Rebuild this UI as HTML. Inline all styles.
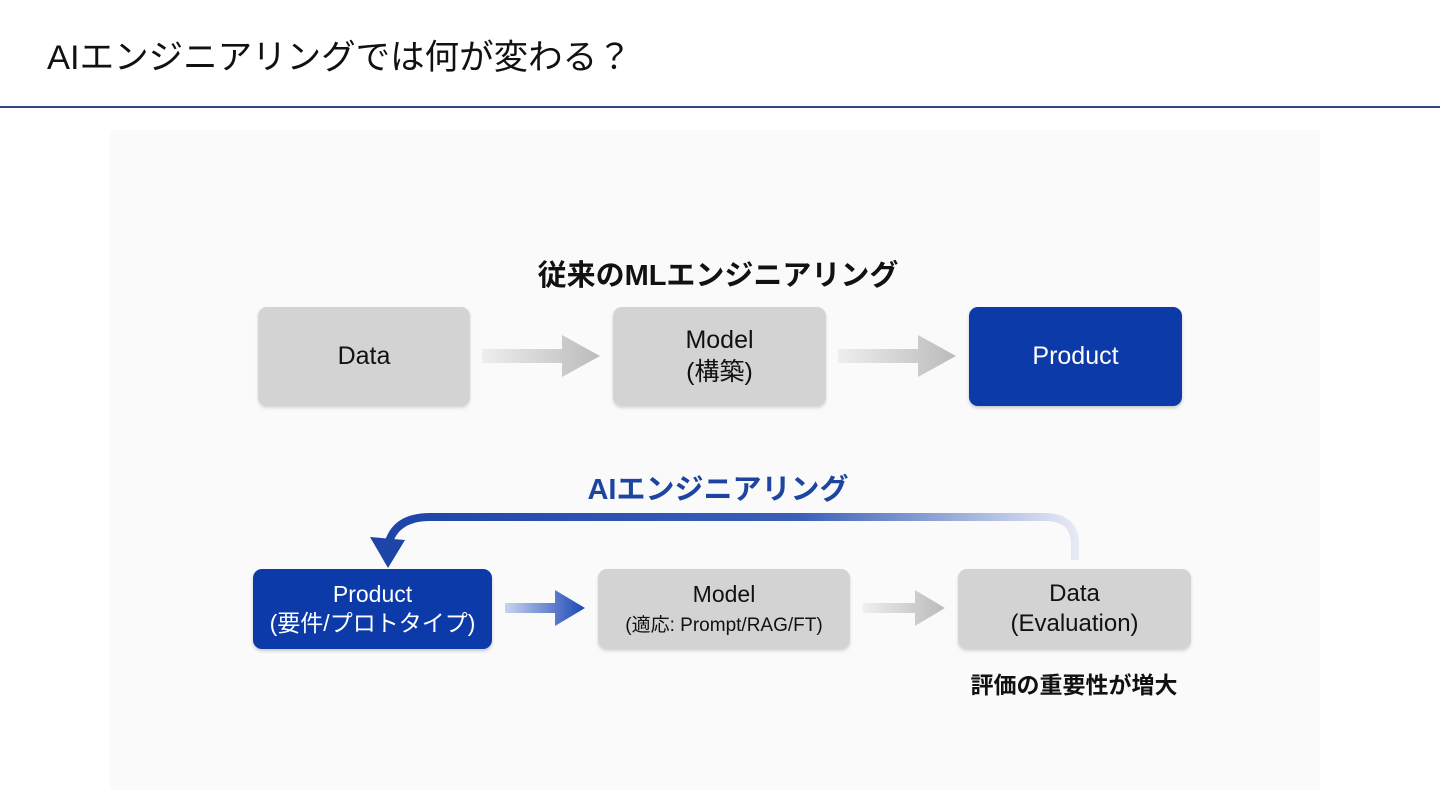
<!DOCTYPE html>
<html><head><meta charset="utf-8"><style>
body{margin:0;width:1440px;height:810px;background:#fff;position:relative;overflow:hidden;font-family:"Liberation Sans","Noto Sans CJK JP",sans-serif}
.t{position:absolute;left:47px;top:29px;font-size:34.5px;color:#111}
.line{position:absolute;left:0;top:106px;width:1440px;height:2px;background:#2f4a78}
.bg{position:absolute;left:110px;top:130px;width:1210px;height:660px;background:#fafafa}
.b{position:absolute;border-radius:9px;display:flex;align-items:center;justify-content:center;text-align:center;font-size:25px;color:#111;line-height:1.25}
.g{background:#d3d3d3;box-shadow:0 2px 3px rgba(0,0,0,.15)}
.u{background:#0c3aa9;color:#fff;box-shadow:0 2px 3px rgba(0,0,0,.2)}
.h{position:absolute;font-weight:bold;font-size:29px;transform:translateX(-50%);white-space:nowrap}
</style></head><body>
<div class="t">AIエンジニアリングでは何が変わる？</div>
<div class="line"></div>
<div class="bg"></div>
<div class="h" style="left:718px;top:252px;color:#111">従来のMLエンジニアリング</div>
<div class="h" style="left:718px;top:466px;color:#1d45a0">AIエンジニアリング</div>
<div class="b g" style="left:258px;top:307px;width:212px;height:99px">Data</div>
<div class="b g" style="left:613px;top:307px;width:213px;height:99px"><div>Model<br>(構築)</div></div>
<div class="b u" style="left:969px;top:307px;width:213px;height:99px">Product</div>
<div class="b u" style="left:253px;top:569px;width:239px;height:80px;font-size:23px"><div>Product<br>(要件/プロトタイプ)</div></div>
<div class="b g" style="left:598px;top:569px;width:252px;height:80px;font-size:23px"><div>Model<br><span style="font-size:19px">(適応: Prompt/RAG/FT)</span></div></div>
<div class="b g" style="left:958px;top:569px;width:233px;height:80px;font-size:24px"><div>Data<br>(Evaluation)</div></div>
<div class="h" style="left:1074px;top:666px;font-size:23px;color:#111">評価の重要性が増大</div>
<svg width="1440" height="810" style="position:absolute;left:0;top:0">
<defs>
<linearGradient id="a1" x1="0" x2="1"><stop offset="0" stop-color="#eee"/><stop offset="1" stop-color="#bbb"/></linearGradient>
<linearGradient id="a2" x1="0" x2="1"><stop offset="0" stop-color="#c8d3ef"/><stop offset="1" stop-color="#1a47b5"/></linearGradient>
<linearGradient id="a3" x1="0" x2="1"><stop offset="0" stop-color="#1d45a8"/><stop offset="0.6" stop-color="#3a60b8"/><stop offset="1" stop-color="#e5e9f3"/></linearGradient>
</defs>
<path d="M482 349H562V335L600 356L562 377V363H482Z" fill="url(#a1)"/>
<path d="M838 349H918V335L956 356L918 377V363H838Z" fill="url(#a1)"/>
<path d="M505 603H555V590L585 608L555 626V613H505Z" fill="url(#a2)"/>
<path d="M863 603H915V590L945 608L915 626V613H863Z" fill="url(#a1)"/>
<path d="M1075 560V545Q1075 517 1045 517H430Q395 517 388 545" fill="none" stroke="url(#a3)" stroke-width="8"/>
<path d="M370 537L388 568L405 540Z" fill="#1d45a8"/>
</svg>
</body></html>
